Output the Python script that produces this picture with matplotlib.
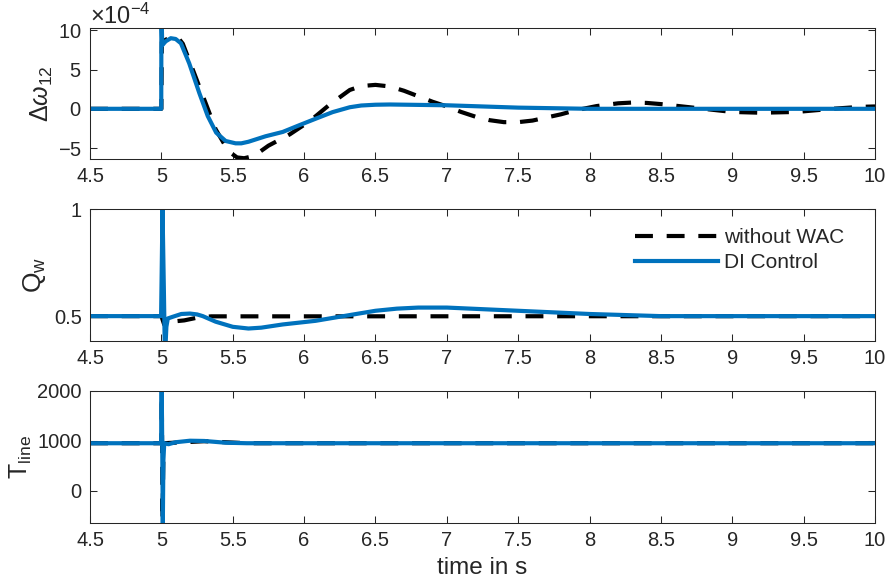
import numpy as np
import matplotlib
matplotlib.use('Agg')
import matplotlib.pyplot as plt
from matplotlib.ticker import ScalarFormatter, FormatStrFormatter

plt.rcParams['font.family'] = ['Liberation Sans', 'DejaVu Sans']
plt.rcParams['mathtext.fontset'] = 'custom'
plt.rcParams['mathtext.rm'] = 'Liberation Sans'
plt.rcParams['mathtext.it'] = 'Liberation Sans:italic'
plt.rcParams['axes.unicode_minus'] = False

# --- data ---
# top panel: delta omega_12 in units of 1e-4
t_dw_wo = [4.5, 5.0, 5.003, 5.03, 5.06, 5.09, 5.12, 5.15, 5.22, 5.3, 5.38, 5.47, 5.53,
           5.58, 5.65, 5.75, 5.9, 6.04, 6.18, 6.32, 6.4, 6.5, 6.6, 6.7, 6.8, 6.9,
           7.0, 7.1, 7.2, 7.3, 7.4, 7.5, 7.6, 7.7, 7.8, 7.9, 8.05, 8.2, 8.3, 8.4,
           8.5, 8.75, 9.0, 9.2, 9.45, 9.7, 9.9, 10.0]
dw_wo = [0, 0, 8.5, 8.8, 9.1, 9.2, 9.0, 8.3, 5.0, 1.2, -2.6, -5.4, -6.2,
         -6.3, -6.0, -4.7, -3.25, -1.56, 0.55, 2.4, 2.9, 3.05, 2.85, 2.3, 1.6, 0.9,
         0.3, -0.4, -1.0, -1.45, -1.7, -1.7, -1.5, -1.1, -0.7, -0.2, 0.35, 0.7, 0.8, 0.75,
         0.6, 0.1, -0.4, -0.5, -0.4, 0.0, 0.25, 0.3]
t_dw_di = [4.5, 4.999, 5.0, 5.003, 5.006, 5.03, 5.066, 5.1, 5.137, 5.195, 5.266,
           5.325, 5.384, 5.45, 5.52, 5.56, 5.61, 5.73, 5.85, 5.965, 6.08, 6.2,
           6.32, 6.4, 6.5, 6.6, 7.0, 7.5, 8.0, 10.0]
dw_di = [0, 0, 10.5, 10.5, 8.1, 8.6, 9.0, 8.9, 8.35, 5.8, 2.0,
         -0.93, -3.04, -4.1, -4.4, -4.4, -4.2, -3.5, -2.95, -2.1, -1.27, -0.42,
         0.2, 0.42, 0.52, 0.55, 0.45, 0.15, 0.0, 0.0]

# middle panel: Q_w
t_q_wo = [4.5, 5.0, 5.02, 5.04, 5.1, 5.16, 5.26, 5.35, 6.0, 10.0]
q_wo = [0.5, 0.5, 0.46, 0.474, 0.476, 0.48, 0.494, 0.499, 0.499, 0.5]
t_q_di = [4.5, 4.998, 5.008, 5.018, 5.025, 5.035, 5.045, 5.08, 5.14, 5.2, 5.25,
          5.29, 5.38, 5.5, 5.61, 5.7, 5.85, 6.08, 6.32, 6.5, 6.65, 6.8, 7.0,
          7.5, 8.0, 8.5, 10.0]
q_di = [0.5, 0.5, 1.0, 0.6, 0.3, 0.45, 0.489, 0.497, 0.51, 0.512, 0.508,
        0.5, 0.474, 0.45, 0.442, 0.446, 0.461, 0.478, 0.505, 0.525, 0.535, 0.54, 0.54,
        0.525, 0.51, 0.5, 0.5]

# bottom panel: T_line
t_T_wo = [4.5, 5.0, 5.003, 5.008, 5.015, 5.3, 5.6, 10.0]
T_wo = [950, 950, 1900, -600, 950, 990, 950, 950]
t_T_di = [4.5, 4.998, 5.002, 5.006, 5.01, 5.014, 5.02, 5.05, 5.1, 5.2, 5.3,
          5.45, 5.6, 10.0]
T_di = [950, 950, 2100, 900, -700, 600, 950, 930, 970, 1000, 995, 960, 950, 950]

xticks = np.arange(4.5, 10.01, 0.5)
blue = '#0072BD'
dark = '#262626'
dash = (0, (4.3, 3.3))

fig = plt.figure(figsize=(8.86, 5.81), dpi=100)
ax1 = fig.add_axes([0.1016, 0.7263, 0.886, 0.2255])
ax2 = fig.add_axes([0.1016, 0.4136, 0.886, 0.2262])
ax3 = fig.add_axes([0.1016, 0.1003, 0.886, 0.2272])

ax1.plot(t_dw_wo, np.array(dw_wo) * 1e-4, color='black', lw=3, ls=dash, label='without WAC')
ax1.plot(t_dw_di, np.array(dw_di) * 1e-4, color=blue, lw=3, label='DI Control')
ax2.plot(t_q_wo, q_wo, color='black', lw=3, ls=dash, label='without WAC')
ax2.plot(t_q_di, q_di, color=blue, lw=3, label='DI Control')
ax3.plot(t_T_wo, T_wo, color='black', lw=3, ls=dash)
ax3.plot(t_T_di, T_di, color=blue, lw=3)

ax1.set_ylim(-6.4e-4, 10.3e-4)
ax1.set_yticks([-5e-4, 0, 5e-4, 10e-4])
fmt = ScalarFormatter(useMathText=True)
fmt.set_powerlimits((-4, -4))
ax1.yaxis.set_major_formatter(fmt)
ax1.yaxis.get_offset_text().set_fontsize(17)
ax1.yaxis.get_offset_text().set_color(dark)

ax2.set_ylim(0.385, 1.0)
ax2.set_yticks([0.5, 1])
ax2.yaxis.set_major_formatter(FormatStrFormatter('%g'))

ax3.set_ylim(-640, 2000)
ax3.set_yticks([0, 1000, 2000])

for ax in (ax1, ax2, ax3):
    ax.set_xlim(4.5, 10)
    ax.set_xticks(xticks)
    ax.xaxis.set_major_formatter(FormatStrFormatter('%g'))
    ax.tick_params(direction='in', top=True, right=True, length=5, width=0.75,
                   colors=dark, labelsize=14.5, pad=6)
    for s in ax.spines.values():
        s.set_color(dark)
        s.set_linewidth(0.75)

ax1.set_ylabel(r'$\Delta\omega_{12}$', fontsize=18, color=dark, labelpad=2)
ax2.set_ylabel(r'Q$_\mathrm{w}$', fontsize=19, color=dark, labelpad=4)
ax3.set_ylabel(r'T$_\mathrm{line}$', fontsize=18, color=dark, labelpad=2)
ax3.set_xlabel('time in s', fontsize=17.5, color=dark, labelpad=5)

leg = ax2.legend(frameon=False, loc='upper right', fontsize=15, handlelength=4.0,
                 handletextpad=0.3, labelspacing=0.3, bbox_to_anchor=(0.985, 1.0))
for txt in leg.get_texts():
    txt.set_color(dark)

fig.savefig('out.png', dpi=100)
